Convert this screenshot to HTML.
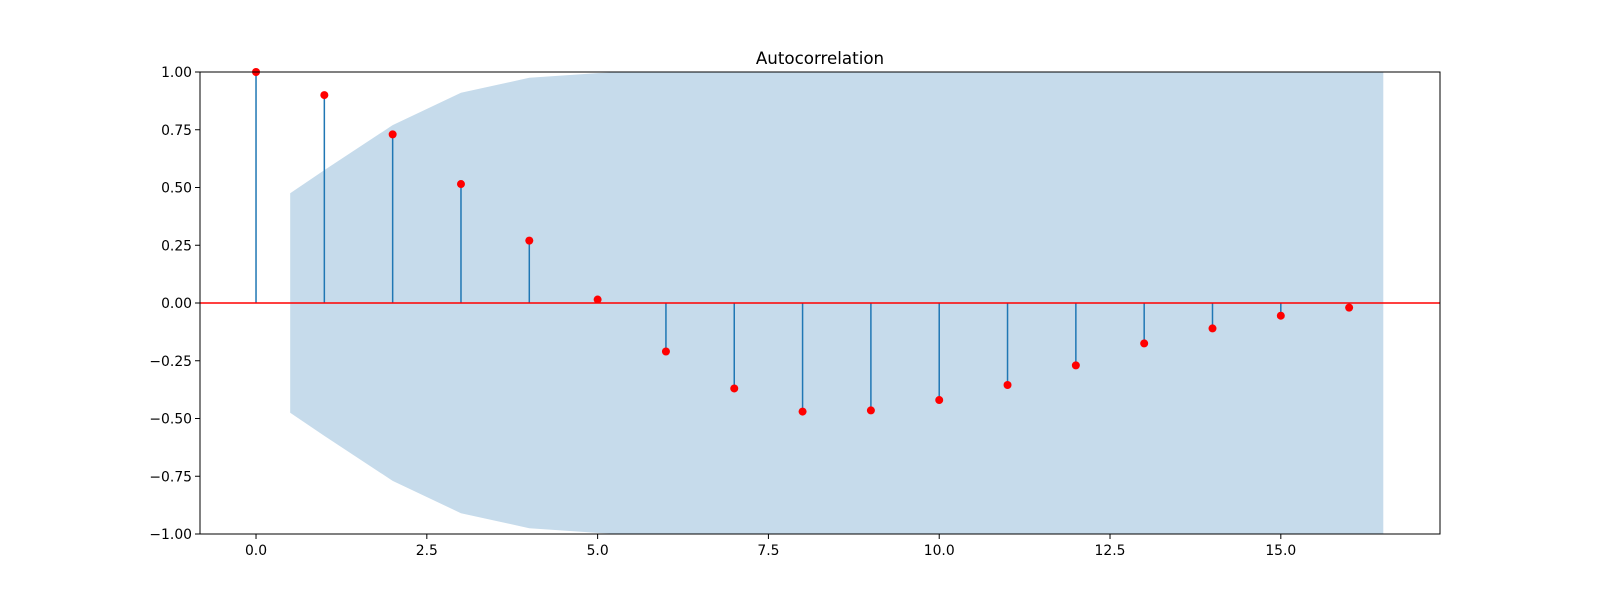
<!DOCTYPE html>
<html><head><meta charset="utf-8"><style>
body{margin:0;background:#fff;font-family:"Liberation Sans","DejaVu Sans",sans-serif;}
svg text{font-family:"DejaVu Sans","Liberation Sans",sans-serif;font-size:13.9px;fill:#000}
</style></head><body>
<svg id="chart" width="1600" height="600" xmlns="http://www.w3.org/2000/svg">
<defs><clipPath id="clip"><rect x="200" y="72" width="1240" height="462"/></clipPath></defs>
<rect width="1600" height="600" fill="#fff"/>
<g id="band" clip-path="url(#clip)"></g>
<g id="stems"></g>
<g id="ticks"></g>
<rect x="200" y="72" width="1240" height="462" fill="none" stroke="#000" stroke-width="1"/>
<text x="820" y="64" text-anchor="middle" style="font-size:16.7px">Autocorrelation</text>
</svg>
<script>
const lags=[0,1,2,3,4,5,6,7,8,9,10,11,12,13,14,15,16];
const acfValues=[1,0.90,0.73,0.515,0.27,0.015,-0.21,-0.37,-0.47,-0.465,-0.42,-0.355,-0.27,-0.175,-0.11,-0.055,-0.02];
const bandX=[0.5,1,2,3,4,5,6,7,8,9,10,11,12,13,14,15,16,16.5];
const bandUpper=[0.475,0.575,0.77,0.91,0.975,0.995,1.01,1.02,1.04,1.06,1.08,1.09,1.1,1.1,1.1,1.1,1.1,1.1];
const xTicks=[0,2.5,5,7.5,10,12.5,15];
const yTicks=[-1,-0.75,-0.5,-0.25,0,0.25,0.5,0.75,1];
const xMin=-0.82,xMax=17.33,L=200,R=1440,T=72,B=534;
const xs=v=>L+(v-xMin)/(xMax-xMin)*(R-L);
const ys=v=>B-(v+1)/2*(B-T);
const NS="http://www.w3.org/2000/svg";
function mk(tag,attrs,parent){const e=document.createElementNS(NS,tag);for(const k in attrs)e.setAttribute(k,attrs[k]);parent.appendChild(e);return e;}
const band=document.getElementById('band');
let d="M"+bandX.map((x,i)=>xs(x)+","+ys(bandUpper[i])).join(" L");
for(let i=bandX.length-1;i>=0;i--)d+=" L"+xs(bandX[i])+","+ys(-bandUpper[i]);
d+=" Z";
const poly=mk('path',{d:d,fill:'#c6dbeb'},band);


const stems=document.getElementById('stems');
lags.forEach((l,i)=>{
 const ln=mk('line',{x1:xs(l),x2:xs(l),y1:ys(0),y2:ys(acfValues[i]),stroke:'#1f77b4','stroke-width':1.5},stems);
 
 
});
const zl=mk('line',{x1:L,x2:R,y1:ys(0),y2:ys(0),stroke:'#ff0000','stroke-width':1.5},stems);


lags.forEach((l,i)=>{
 const c=mk('circle',{cx:xs(l),cy:ys(acfValues[i]),r:4,fill:'#ff0000'},stems);
 
 
});
const tk=document.getElementById('ticks');
xTicks.forEach(v=>{
 const x=xs(v);
 mk('line',{x1:x,x2:x,y1:B,y2:B+5,stroke:'#000'},tk);
 const t=mk('text',{x:x,y:B+21,'text-anchor':'middle'},tk);
 t.textContent=v.toFixed(1);
 
 
});
yTicks.forEach(v=>{
 const y=ys(v);
 mk('line',{x1:L-5,x2:L,y1:y,y2:y,stroke:'#000'},tk);
 const t=mk('text',{x:L-8,y:y+5,'text-anchor':'end'},tk);
 t.textContent=(v<0?'\u2212':'')+Math.abs(v).toFixed(2);
 
 
});
</script>
</body></html>
